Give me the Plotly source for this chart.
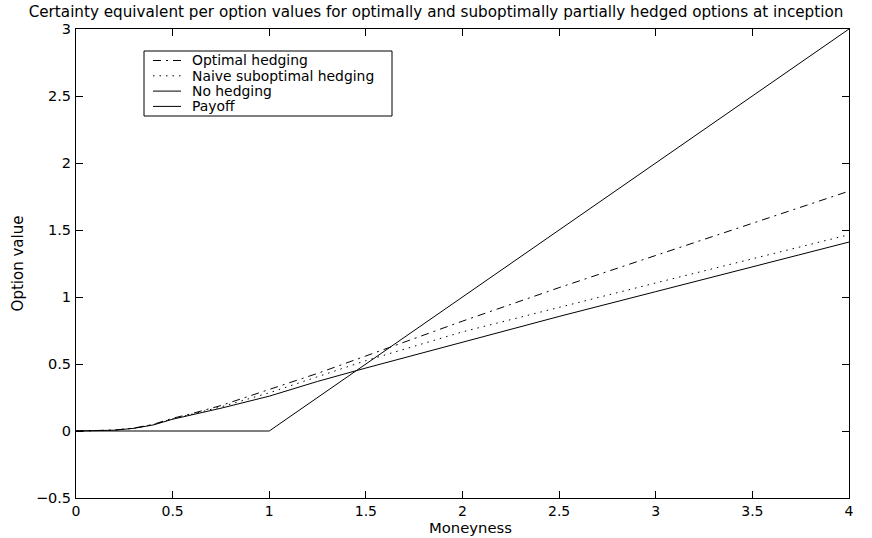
import plotly.graph_objects as go

moneyness = [0, 0.1, 0.2, 0.3, 0.4, 0.5, 0.6, 0.75, 1.0, 1.25, 1.5, 2.0, 2.5, 3.0, 3.5, 4.0]
optimal = [0, 0.001, 0.007, 0.022, 0.05, 0.095, 0.13, 0.19, 0.31, 0.43, 0.56, 0.82, 1.07, 1.31, 1.55, 1.79]
naive = [0, 0.001, 0.006, 0.021, 0.048, 0.09, 0.125, 0.18, 0.285, 0.405, 0.525, 0.74, 0.925, 1.105, 1.285, 1.465]
no_hedge = [0, 0.001, 0.006, 0.02, 0.045, 0.088, 0.12, 0.17, 0.26, 0.37, 0.47, 0.665, 0.855, 1.04, 1.225, 1.41]
payoff_x = [0, 1, 4]
payoff_y = [0, 0, 3]

xticks = [0, 0.5, 1, 1.5, 2, 2.5, 3, 3.5, 4]
yticks = [-0.5, 0, 0.5, 1, 1.5, 2, 2.5, 3]

series_names = ["Optimal hedging", "Naive suboptimal hedging", "No hedging", "Payoff"]
series_dash = ["8px,5px,2px,5px", "1.5px,5px", "solid", "solid"]

FONT = "DejaVu Sans, Liberation Sans, sans-serif"

fig = go.Figure()
fig.add_trace(go.Scatter(x=moneyness, y=optimal, mode="lines", name=series_names[0],
                         line=dict(color="black", width=1, dash=series_dash[0])))
fig.add_trace(go.Scatter(x=moneyness, y=naive, mode="lines", name=series_names[1],
                         line=dict(color="black", width=1, dash=series_dash[1])))
fig.add_trace(go.Scatter(x=moneyness, y=no_hedge, mode="lines", name=series_names[2],
                         line=dict(color="black", width=1, dash=series_dash[2])))
fig.add_trace(go.Scatter(x=payoff_x, y=payoff_y, mode="lines", name=series_names[3],
                         line=dict(color="black", width=1, dash=series_dash[3])))

axis_common = dict(showgrid=False, zeroline=False, showline=True, linecolor="black", linewidth=1,
                   mirror="ticks", ticks="inside", ticklen=7, tickcolor="black", automargin=False)

# plot-area geometry in pixels (for the hand-drawn legend box)
L, R, T, B = 76, 23, 29, 40
W, H = 872, 538
pw, ph = W - L - R, H - T - B


def px(x):
    return (x - L) / pw


def py(y):
    return (H - B - y) / ph


shapes = [dict(type="rect", xref="paper", yref="paper", x0=px(144), x1=px(392), y0=py(116), y1=py(51),
               line=dict(color="black", width=1), fillcolor="white", layer="above")]
annotations = []
row_y = [60.5, 75.8, 91.1, 106.4]
for name, dash, ry in zip(series_names, series_dash, row_y):
    shapes.append(dict(type="line", xref="paper", yref="paper", x0=px(153), x1=px(181), y0=py(ry), y1=py(ry),
                       line=dict(color="black", width=1, dash=dash), layer="above"))
    annotations.append(dict(text=name, xref="paper", yref="paper", x=px(190), y=py(ry), xanchor="left",
                            yanchor="middle", showarrow=False, font=dict(family=FONT, size=13.9, color="black")))

# x-axis title placed as text just below the tick labels
annotations.append(dict(text="Moneyness", xref="paper", yref="paper", x=px(470), y=py(527),
                        xanchor="center", yanchor="middle", showarrow=False,
                        font=dict(family=FONT, size=14.8, color="black")))

fig.update_layout(
    width=W, height=H,
    margin=dict(l=L, r=R, t=T, b=B),
    paper_bgcolor="white", plot_bgcolor="white",
    font=dict(family=FONT, size=14.5, color="black"),
    title=dict(text="Certainty equivalent per option values for optimally and suboptimally partially hedged options at inception",
               x=0.5, xref="container", xanchor="center", y=1 - 12 / H, yref="container", yanchor="middle",
               font=dict(family=FONT, size=15.2)),
    xaxis=dict(range=[0, 4], tickvals=xticks, ticktext=[f"{v:g}" for v in xticks], ticklabelstandoff=0,
               tickfont=dict(family=FONT, size=14, color="black"), **axis_common),
    yaxis=dict(range=[-0.5, 3], tickvals=yticks, ticktext=[("\u22120.5" if v < 0 else f"{v:g}") for v in yticks],
               ticklabelstandoff=1, tickfont=dict(family=FONT, size=14.5, color="black"),
               title=dict(text="Option value", standoff=8, font=dict(size=15)), **axis_common),
    showlegend=False,
    shapes=shapes,
    annotations=annotations,
)

fig.write_html("out.html")
